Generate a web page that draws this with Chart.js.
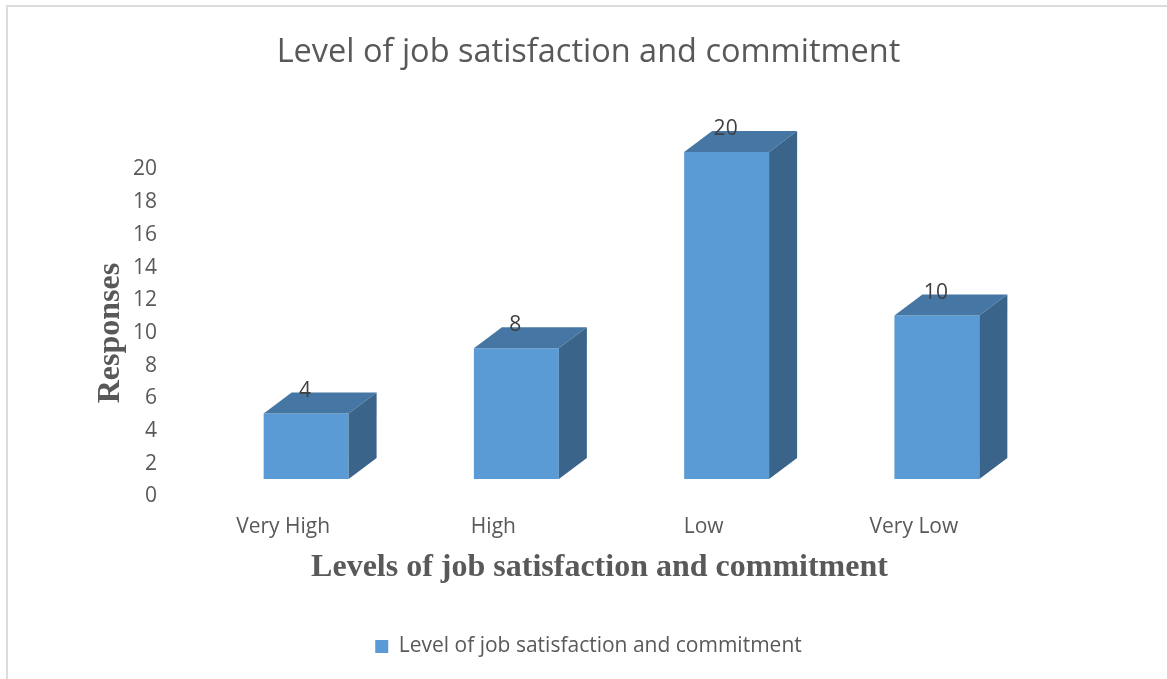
<!DOCTYPE html>
<html>
<head>
<meta charset="utf-8">
<title>Level of job satisfaction and commitment</title>
<script src="https://cdn.jsdelivr.net/npm/chart.js@4.4.0/dist/chart.umd.min.js"></script>
<style>
    html, body { margin: 0; padding: 0; background: #fff; overflow: hidden; }
    #wrap { position: relative; width: 1167px; height: 679px; }
    #frame { position: absolute; left: 6px; top: 5px; width: 1300px; height: 800px; border-top: 2px solid #dcdcdc; border-left: 2px solid #dcdcdc; }
    #myChart { position: absolute; left: 0; top: 0; }
</style>
</head>
<body>
<div id="wrap">
    <div id="frame"></div>
    <canvas id="myChart" width="1167" height="679"></canvas>
</div>
<script>
// data
var categories = ['Very High', 'High', 'Low', 'Very Low'];
var responses = [4, 8, 20, 10];
var yTicks = [0, 2, 4, 6, 8, 10, 12, 14, 16, 18, 20];

var chartTitle = 'Level of job satisfaction and commitment';
var seriesName = 'Level of job satisfaction and commitment';
var xTitle = 'Levels of job satisfaction and commitment';
var yTitle = 'Responses';

// 3d look
var frontColor = '#5b9bd5';
var topColor = '#4677a4';
var sideColor = '#3a6489';
var depthX = 28, depthY = 21;
var baseShift = 1.07; // bars stand a bit above the 0 tick, like the excel 3d floor

var bar3d = {
    id: 'bar3d',
    afterDatasetsDraw: function (chart) {
        var ctx = chart.ctx;
        var meta = chart.getDatasetMeta(0);
        ctx.save();
        meta.data.forEach(function (bar, i) {
            var l = bar.x - bar.width / 2;
            var r = bar.x + bar.width / 2;
            var t = bar.y;
            var b = bar.base;

            ctx.fillStyle = topColor;
            ctx.beginPath();
            ctx.moveTo(l, t);
            ctx.lineTo(l + depthX, t - depthY);
            ctx.lineTo(r + depthX, t - depthY);
            ctx.lineTo(r, t);
            ctx.closePath();
            ctx.fill();

            ctx.fillStyle = sideColor;
            ctx.beginPath();
            ctx.moveTo(r, t);
            ctx.lineTo(r + depthX, t - depthY);
            ctx.lineTo(r + depthX, b - depthY);
            ctx.lineTo(r, b);
            ctx.closePath();
            ctx.fill();

            ctx.fillStyle = '#404040';
            ctx.font = '21px "Open Sans"';
            ctx.textAlign = 'center';
            ctx.textBaseline = 'alphabetic';
            ctx.fillText(String(responses[i]), bar.x - 1, t - depthY + 4);
        });

        // x axis title, sits a little left like the tick labels
        var area = chart.chartArea;
        ctx.font = 'bold 32px "Liberation Serif"';
        ctx.fillStyle = '#595959';
        ctx.textAlign = 'center';
        ctx.textBaseline = 'middle';
        ctx.fillText(xTitle, (area.left + area.right) / 2 - 22, chart.scales.x.top + 71);
        ctx.restore();
    }
};

var ctx = document.getElementById('myChart').getContext('2d');
var config = {
    type: 'bar',
    data: {
        labels: categories,
        datasets: [{
            label: seriesName,
            data: responses,
            yAxisID: 'yb',
            backgroundColor: frontColor,
            borderWidth: 0,
            categoryPercentage: 1,
            barPercentage: 0.404,
            clip: false
        }]
    },
    options: {
        responsive: false,
        animation: false,
        layout: { padding: { left: 10, right: 0, top: 0, bottom: 12 } },
        plugins: {
            title: {
                display: true,
                text: chartTitle,
                color: '#595959',
                font: { family: 'Open Sans', size: 32.5, weight: 'normal' },
                padding: { top: 33, bottom: 97.5 }
            },
            legend: {
                position: 'bottom',
                labels: {
                    boxWidth: 13,
                    boxHeight: 13,
                    color: '#595959',
                    font: { family: 'Open Sans', size: 21 },
                    padding: 10
                }
            },
            tooltip: { enabled: false }
        },
        scales: {
            x: {
                ticks: {
                    color: '#595959',
                    font: { family: 'Open Sans', size: 21 },
                    padding: 18,
                    labelOffset: -23
                },
                grid: { display: false, drawTicks: false },
                border: { display: false },
                afterFit: function (s) { s.height = 129.5; }
            },
            y: {
                position: 'left',
                min: yTicks[0],
                max: yTicks[yTicks.length - 1],
                ticks: {
                    stepSize: yTicks[1] - yTicks[0],
                    color: '#595959',
                    font: { family: 'Open Sans', size: 21 },
                    padding: 44
                },
                grid: { display: false, drawTicks: false },
                border: { display: false },
                title: {
                    display: true,
                    text: yTitle,
                    color: '#595959',
                    font: { family: 'Liberation Serif', size: 32, weight: 'bold' },
                    padding: { top: 82, bottom: 0 }
                },
                afterFit: function (s) { s.width = 191; }
            },
            yb: {
                position: 'right',
                min: yTicks[0] - baseShift,
                max: yTicks[yTicks.length - 1] - baseShift,
                ticks: { display: false },
                grid: { display: false, drawTicks: false },
                border: { display: false },
                afterFit: function (s) { s.width = 125; }
            }
        }
    },
    plugins: [bar3d]
};

var chart = new Chart(ctx, config);
</script>
</body>
</html>
